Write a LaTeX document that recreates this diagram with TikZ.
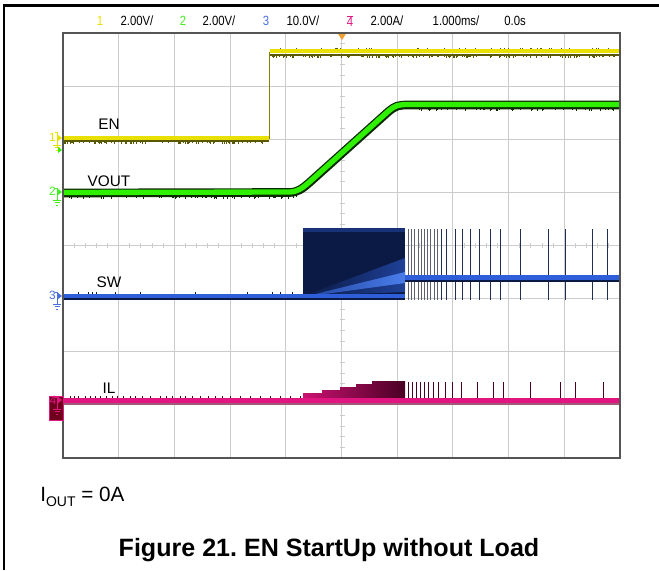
\documentclass[tikz,border=0pt]{standalone}
\usepackage{fontspec}
\setmainfont{Liberation Sans}
\frenchspacing
\definecolor{enY}{HTML}{E8E000}
\definecolor{enD}{HTML}{5A5800}
\definecolor{voG}{HTML}{2EF000}
\definecolor{voD}{HTML}{0C2A00}
\definecolor{swB}{HTML}{2F5FD8}
\definecolor{swD}{HTML}{0B1A45}
\definecolor{swL}{HTML}{4A7DEA}
\definecolor{ilP}{HTML}{E0157F}
\definecolor{ilD}{HTML}{4A0024}
\definecolor{ilE}{HTML}{A05A78}
\definecolor{gridc}{HTML}{CCCCCC}
\definecolor{scrc}{HTML}{555555}
\definecolor{trig}{HTML}{F0A030}
\definecolor{hdr3}{HTML}{4A6FE0}
\definecolor{hdr2}{HTML}{44EE22}
\definecolor{hdr1}{HTML}{E8E000}
\tikzset{
  lbl/.style={font=\fontsize{11.5}{12}\selectfont, inner sep=0pt},
  hdr/.style={font=\fontsize{10}{11}\selectfont, inner sep=0pt},
  gridline/.style={gridc, line width=0.75pt},
  spike/.style={line width=0.6pt},
}
\newcommand{\nrw}[1]{\scalebox{0.85}[1]{#1}}
\begin{document}
\begin{tikzpicture}[x=0.75pt,y=-0.75pt]
\useasboundingbox (0,0) rectangle (659,570);
\fill[white] (0,0) rectangle (659,570);
% outer frame
\draw[line width=2.2pt] (4,570) -- (4,5.5) -- (659,5.5);
% header
\node[hdr, text=hdr1] (h1) at (100,21) {\nrw{1}};
\node[hdr] (h1v) at (137,21) {\nrw{2.00V/}};
\node[hdr, text=hdr2] (h2) at (183,21) {\nrw{2}};
\node[hdr] (h2v) at (219,21) {\nrw{2.00V/}};
\node[hdr, text=hdr3] (h3) at (266,21) {\nrw{3}};
\node[hdr] (h3v) at (303,21) {\nrw{10.0V/}};
\node[hdr, text=ilP] (h4) at (350,21) {\nrw{$\overline{\mbox{4}}$}};
\node[hdr] (h4v) at (387,21) {\nrw{2.00A/}};
\node[hdr] (ht) at (456,21) {\nrw{1.000ms/}};
\node[hdr] (hd) at (515,21) {\nrw{0.0s}};
% grid
\foreach \k in {1,...,9} \draw[gridline] ({63+55.7*\k},33) -- ({63+55.7*\k},458);
\foreach \k in {1,...,7} \draw[gridline] (63,{33+53.125*\k}) -- (620,{33+53.125*\k});
\foreach \k in {1,...,49} \draw[gridline] ({63+11.14*\k},243) -- ({63+11.14*\k},247.5);
\foreach \k in {1,...,39} \draw[gridline] (339.5,{33+10.625*\k}) -- (344.5,{33+10.625*\k});
% trigger marker
\fill[trig] (337.5,33) -- (346.5,33) -- (342,40) -- cycle;
\begin{scope}
\clip (63,33) rectangle (620,458);
% ---- EN (yellow)
\pgfmathsetseed{11}
\draw[enD, line width=1.2pt] (63,141) -- (269,141);
\draw[enD, line width=1.2pt] (270,55) -- (620,55);
\foreach \i in {1,...,110}{\pgfmathsetmacro{\xx}{64+204*rnd}\pgfmathsetmacro{\hh}{1+2.5*rnd}
  \draw[enD, spike] (\xx,141) -- (\xx,141+\hh);}
\foreach \i in {1,...,170}{\pgfmathsetmacro{\xx}{271+348*rnd}\pgfmathsetmacro{\hh}{1+2.5*rnd}
  \draw[enD, spike] (\xx,55) -- (\xx,55+\hh);}
\foreach \i in {1,...,40}{\pgfmathsetmacro{\xx}{271+348*rnd}
  \draw[enD, spike] (\xx,48) -- (\xx,50);}
\draw[enY, line width=3pt] (63,138) -- (269,138);
\draw[enY, line width=3pt] (270,51.5) -- (620,51.5);
\draw[enD!70!enY, line width=0.9pt] (269.5,139) -- (269.5,52);
% ---- VOUT (green)
\draw[voD, line width=6.5pt] (63,193) -- (290,192.5) .. controls (298,192) and (302,189) .. (310,182) -- (388,112) .. controls (395,106) and (398,105) .. (408,105) -- (620,105);
\foreach \i in {1,...,150}{\pgfmathsetmacro{\xx}{64+555*rnd}\pgfmathsetmacro{\hh}{1+2.5*rnd}
  \ifdim\xx pt<300pt \draw[voD, spike] (\xx,196) -- (\xx,196+\hh);\else\ifdim\xx pt>406pt \draw[voD, spike] (\xx,108) -- (\xx,108+\hh);\fi\fi}
\draw[voG, line width=4pt] (63,192.5) -- (290,192) .. controls (298,191.5) and (302,188.5) .. (310,181.5) -- (388,111.5) .. controls (395,105.5) and (398,104.5) .. (408,104.5) -- (620,104.5);
% ---- SW (blue)
\foreach \x in {408,411,414,418,421,424,427,430,434,437}
  \draw[gray!70!swD, line width=0.5pt] (\x,229) -- (\x,300);
\foreach \x in {441,446,455,462,470,479,490,500,520,548,565,592,607}
  \draw[swD!80!gray, spike] (\x,229) -- (\x,300);
\fill[swD] (303,228) rectangle (405,300);
\fill[swB!35!swD] (303,228) rectangle (405,232);
\shade[left color=swD, right color=swB!70!swD, opacity=0.8] (303,296) -- (405,258) -- (405,292) -- cycle;
\shade[left color=swB!60!swD, right color=swL] (303,297) -- (405,272) -- (405,283) -- cycle;
\draw[swB, line width=3.5pt] (63,296) -- (405,296);
\draw[swD, line width=1.2pt] (63,299) -- (303,299);
\draw[swD, line width=1.5pt] (405,281) -- (620,281);
\draw[swB, line width=3.5pt] (405,277.5) -- (620,277.5);
\foreach \x in {78,88,92,96,115,140,195,247,272,280,292}
  \draw[swD, spike] (\x,292) -- (\x,294);
% ---- IL (pink)
\draw[ilE, line width=1.5pt] (63,404) -- (620,404);
\foreach \x in {408,412,416,420,424,428,433,438,445,452,461,477,493,503,530,560,575,603}
  \draw[ilD, spike] (\x,382) -- (\x,400);
\shade[left color=ilP!85!ilD, right color=ilD] (303,400) -- (303,393) -- (322,393) -- (322,390) -- (340,390) -- (340,387) -- (356,387) -- (356,384) -- (372,384) -- (372,381) -- (405,381) -- (405,400) -- cycle;
\draw[ilP, line width=3.5pt] (63,400.5) -- (620,400.5);
\foreach \x in {70,74,78,85,90,95,100,106,112,117,123,130,135,142,150,160,166,172,180,185,192,200,208,215,222,230,240,250,260,270,280,290,300}
  \draw[ilD, spike] (\x,396) -- (\x,398);
\end{scope}
% screen border
\draw[scrc, line width=1.1pt] (63,33) rectangle (620,458);
% channel markers
\node[font=\fontsize{9}{9}\selectfont, text=hdr1, inner sep=0pt] (m1) at (52.5,137) {1};
\draw[hdr1, line width=0.6pt] (55,132) -- (57,132) -- (57,148);
\fill[hdr1] (57.5,134.5) -- (62,138) -- (57.5,141.5) -- cycle;
\draw[hdr1, line width=0.6pt] (53,145) -- (61,145) (54.5,147.5) -- (59.5,147.5) (56,150) -- (58,150);
\fill[voG] (58,147) -- (62,150) -- (58,153) -- cycle;
\node[font=\fontsize{9}{9}\selectfont, text=hdr2, inner sep=0pt] (m2) at (52.5,191) {2};
\draw[hdr2, line width=0.6pt] (55,188) -- (57,188) -- (57,200);
\fill[hdr2] (57.5,188.5) -- (62,192) -- (57.5,195.5) -- cycle;
\draw[hdr2, line width=0.6pt] (53,200) -- (61,200) (54.5,202.5) -- (59.5,202.5) (56,205) -- (58,205);
\node[font=\fontsize{9}{9}\selectfont, text=hdr3, inner sep=0pt] (m3) at (52.5,295) {3};
\draw[hdr3, line width=0.6pt] (55,292) -- (57,292) -- (57,304);
\fill[hdr3] (57.5,292.5) -- (62,296) -- (57.5,299.5) -- cycle;
\draw[hdr3, line width=0.6pt] (53,304) -- (61,304) (54.5,306.5) -- (59.5,306.5) (56,309) -- (58,309);
\fill[ilD!80!red] (49,396) rectangle (63,420);
\draw[ilP, line width=0.6pt] (49,396) rectangle (63,420);
\node[font=\fontsize{9}{9}\selectfont, text=ilP, inner sep=0pt] (m4) at (53,400) {4};
\draw[ilP, line width=0.6pt] (55,397) -- (57,397) -- (57,409);
\fill[ilP] (57.5,396.5) -- (62,400) -- (57.5,403.5) -- cycle;
\draw[ilP, line width=0.6pt] (53,409) -- (61,409) (54.5,411.5) -- (59.5,411.5) (56,414) -- (58,414);
% trace labels
\node[lbl] (en) at (109,124) {EN};
\node[lbl] (vout) at (109,181) {VOUT};
\node[lbl] (sw) at (109,282) {SW};
\node[lbl] (il) at (109,388) {IL};
% bottom texts
\node[font=\fontsize{15.5}{16}\selectfont, anchor=west, inner sep=0pt] (iout) at (40,497) {I\raisebox{-0.4ex}{\fontsize{10.5}{11}\selectfont OUT} = 0A};
\node[font=\fontsize{18.8}{20}\selectfont\bfseries, inner sep=0pt] (cap) at (329,550) {Figure 21. EN StartUp without Load};
\end{tikzpicture}
\end{document}
